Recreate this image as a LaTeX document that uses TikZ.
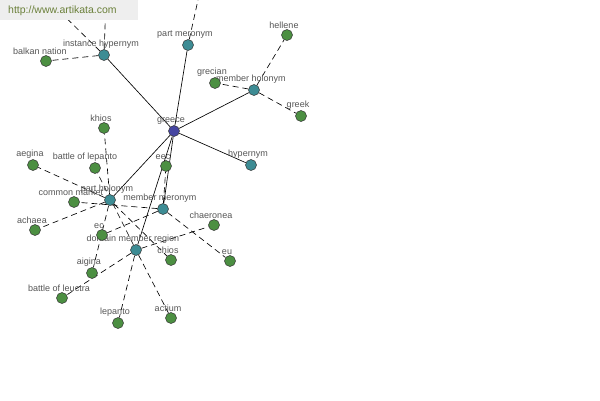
\documentclass[tikz,border=0pt]{standalone}
\usepackage{fontspec}
\setmainfont{Liberation Sans}
\usetikzlibrary{backgrounds}

\definecolor{hubblue}{HTML}{4646A2}
\definecolor{relteal}{HTML}{3D8C94}
\definecolor{leafgreen}{HTML}{4C8F42}
\definecolor{labelgray}{HTML}{555555}
\definecolor{urlgreen}{HTML}{6B803A}
\definecolor{urlbox}{HTML}{EEEEEE}

\begin{document}
\begin{tikzpicture}[x=1pt,y=-1pt,
    every label/.style={font=\fontsize{9}{10}\selectfont, text=labelgray, inner sep=0pt, xshift=-3pt},
    label distance=0.3pt,
    dot/.style={circle, draw=black!80, line width=0.5pt, minimum size=11pt, inner sep=0pt},
    hub/.style={dot, fill=hubblue},
    rel/.style={dot, fill=relteal},
    leaf/.style={dot, fill=leafgreen},
    link/.style={line width=0.65pt},
    far/.style={line width=0.65pt, dash pattern=on 6pt off 4pt}]
        \useasboundingbox (0,0) rectangle (600,400);

        % Centre word
        \node[hub, label=above:greece] (greece) at (174,131) {};

        % Relation nodes
        \node[rel, label=above:instance hypernym] (insthyp) at (104,55) {};
        \node[rel, label=above:part meronym] (partmer) at (188,45) {};
        \node[rel, label=above:member holonym] (memhol) at (254,90) {};
        \node[rel, label=above:hypernym] (hypernym) at (251,165) {};
        \node[rel, label=above:part holonym] (partholo) at (110,200) {};
        \node[rel, label=above:member meronym] (memmer) at (163,209) {};
        \node[rel, label=above:domain member region] (domreg) at (136,250) {};

        % Words
        \node[leaf, label={[xshift=-3pt]above:balkan nation}] (balkan) at (46,61) {};
        \node[leaf, label=above:hellene] (hellene) at (287,35) {};
        \node[leaf, label=above:grecian] (grecian) at (215,83) {};
        \node[leaf, label=above:greek] (greek) at (301,116) {};
        \node[leaf, label=above:khios] (khios) at (104,128) {};
        \node[leaf, label=above:aegina] (aegina) at (33,165) {};
        \node[leaf, label={[xshift=-7pt]above:battle of lepanto}] (lepbattle) at (95,168) {};
        \node[leaf, label=above:common market] (market) at (74,202) {};
        \node[leaf, label=above:achaea] (achaea) at (35,230) {};
        \node[leaf, label=above:eec] (eec) at (166,166) {};
        \node[leaf, label=above:chaeronea] (chaeronea) at (214,225) {};
        \node[leaf, label=above:ec] (ec) at (102,235) {};
        \node[leaf, label=above:chios] (chios) at (171,260) {};
        \node[leaf, label=above:eu] (eu) at (230,261) {};
        \node[leaf, label=above:aigina] (aigina) at (92,273) {};
        \node[leaf, label=above:battle of leuctra] (leuctra) at (62,298) {};
        \node[leaf, label=above:lepanto] (lepanto) at (118,323) {};
        \node[leaf, label=above:actium] (actium) at (171,318) {};

        % Loose ends above the picture
        \coordinate (upA) at (48,0);
        \coordinate (upB) at (106,0);
        \coordinate (upC) at (198,0);

        \begin{scope}[on background layer]
            % Relations of greece
            \foreach \r in {insthyp,partmer,memhol,hypernym,partholo,memmer,domreg}
                \draw[link] (greece) -- (\r);

            % Words of each relation
            \foreach \w in {balkan,upA,upB}
                \draw[far] (insthyp) -- (\w);
            \draw[far] (partmer) -- (upC);
            \foreach \w in {hellene,grecian,greek}
                \draw[far] (memhol) -- (\w);
            \foreach \w in {khios,aegina,achaea,chios,aigina}
                \draw[far] (partholo) -- (\w);
            \foreach \w in {eec,ec,eu,market}
                \draw[far] (memmer) -- (\w);
            \foreach \w in {lepbattle,leuctra,lepanto,actium,chaeronea}
                \draw[far] (domreg) -- (\w);
        \end{scope}

        % Site banner
        \fill[urlbox] (0,0) rectangle (138,20);
        \node[anchor=west, text=urlgreen, font=\fontsize{10.5}{12}\selectfont, inner sep=0pt] (url) at (8,11) {http://www.artikata.com};
\end{tikzpicture}
\end{document}
